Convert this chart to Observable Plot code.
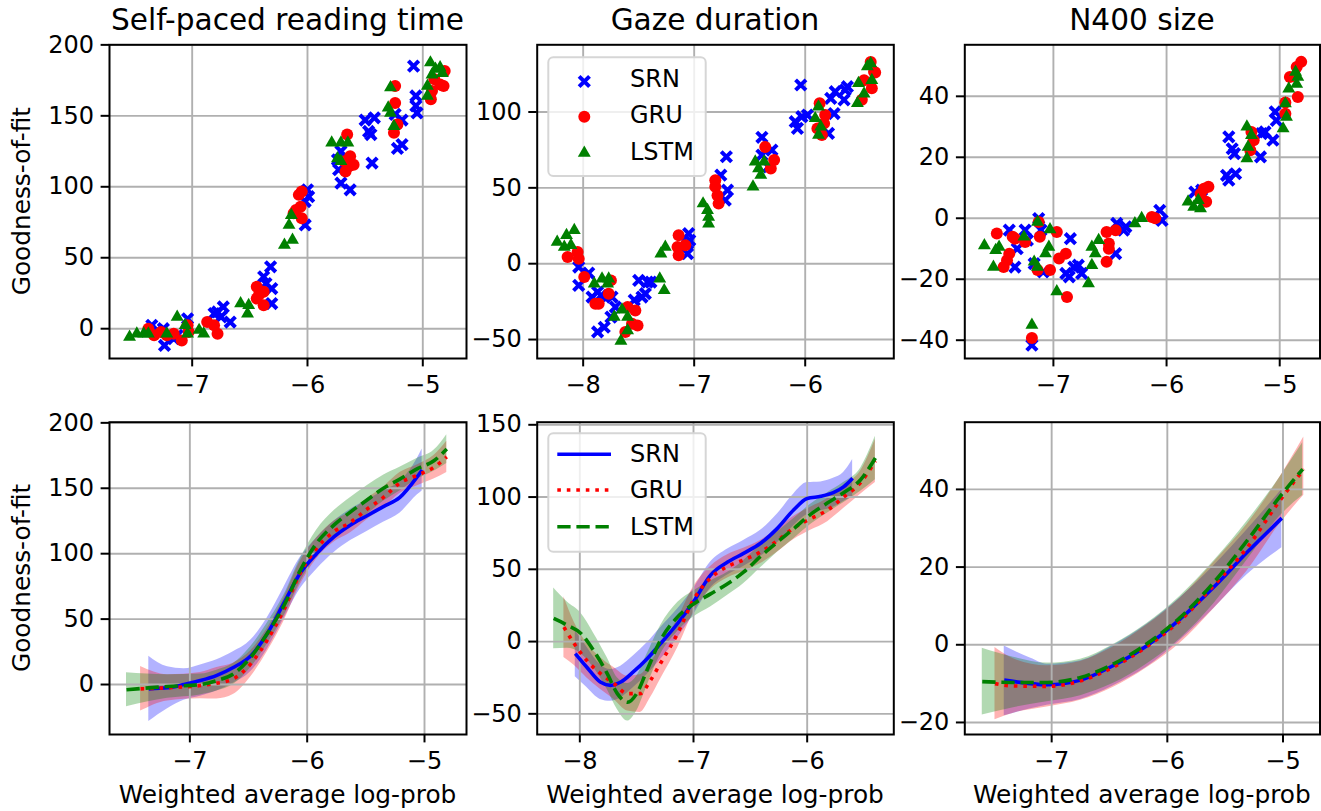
<!DOCTYPE html>
<html><head><meta charset="utf-8">
<script src="https://cdn.jsdelivr.net/npm/d3@7"></script>
<script src="https://cdn.jsdelivr.net/npm/@observablehq/plot@0.6"></script>
<style>
body{margin:0;background:#fff;}
#chart{position:relative;width:1321px;height:811px;font-family:"DejaVu Sans";}
#chart svg{position:absolute;left:0;top:0;}
</style></head><body><div id="chart"></div>
<script>
// ---------- labels ----------
const models = ["SRN", "GRU", "LSTM"];
const panelTitles = ["Self-paced reading time", "Gaze duration", "N400 size"];
const yLabel = "Goodness-of-fit";
const xLabel = "Weighted average log-prob";

// ---------- tick values ----------
const ticksX_spr = [-7, -6, -5];
const ticksX_gaze = [-8, -7, -6];
const ticksX_n400 = [-7, -6, -5];
const ticksY_sprTop = [0, 50, 100, 150, 200];
const ticksY_gazeTop = [-50, 0, 50, 100];
const ticksY_n400Top = [-40, -20, 0, 20, 40];
const ticksY_sprBot = [0, 50, 100, 150, 200];
const ticksY_gazeBot = [-50, 0, 50, 100, 150];
const ticksY_n400Bot = [-20, 0, 20, 40];

// ---------- scatter data [x, y] ----------
const sprSRN = [[-7.35,2.4],[-7.30,-1.2],[-7.25,0],[-7.24,-11.8],[-7.16,-7],[-7.04,7],[-7.13,-4.7],[-6.81,10.6],[-6.73,15.3],[-6.75,8.3],[-6.67,4.7],[-6.78,11.8],[-6.38,36.6],[-6.32,43.6],[-6.36,31.8],[-6.31,28.3],[-6.31,17.7],[-6.0,97.9],[-6.02,89.6],[-6.02,73.1],[-5.99,93],[-5.71,125],[-5.73,112],[-5.71,102.6],[-5.63,97.9],[-5.74,119],[-5.50,147],[-5.47,139],[-5.42,148.6],[-5.44,116.7],[-5.45,136.8],[-5.22,127],[-5.18,129.7],[-5.24,151],[-5.18,147],[-5.08,185],[-5.06,164],[-5.05,152],[-5.06,157]];
const sprGRU = [[-7.38,0],[-7.33,-4.7],[-7.27,-2.4],[-7.22,-4.7],[-7.16,-3.5],[-7.09,-8.3],[-7.04,2.4],[-7.03,-2.4],[-6.87,4.7],[-6.81,2.4],[-6.78,-3.5],[-6.44,29.5],[-6.44,21.2],[-6.38,26],[-6.38,16.5],[-6.42,24],[-6.075,94.3],[-6.05,96.7],[-6.10,83.7],[-6.06,86],[-6.05,77.8],[-6.12,81.4],[-5.656,136.8],[-5.63,121.5],[-5.67,110.8],[-5.60,115.6],[-5.64,114.4],[-5.68,118],[-5.24,171],[-5.24,159],[-5.22,143.9],[-5.25,138],[-4.93,161.6],[-4.92,167.5],[-4.85,172],[-4.82,171],[-4.81,181.6],[-4.90,175.7]];
const sprLSTM = [[-7.543,-5.9],[-7.48,-3.5],[-7.42,-3.5],[-7.38,-3.5],[-7.13,8.3],[-7.22,-3.5],[-7.06,2.4],[-7.04,-3.5],[-6.94,-1],[-6.90,-3.5],[-6.58,17.7],[-6.51,16.5],[-6.52,10.6],[-6.16,73],[-6.14,80],[-6.20,59],[-6.13,62.5],[-5.79,131],[-5.71,131],[-5.65,131],[-5.74,120],[-5.71,118],[-5.28,170],[-5.30,155.7],[-5.25,142.7],[-5.28,152],[-4.934,187.5],[-4.96,171],[-4.92,179],[-4.96,164],[-4.89,183],[-4.85,184],[-4.83,180]];

const gazeSRN = [[-8.04,-2.2],[-8.04,-14.3],[-7.95,-6.2],[-7.92,-22],[-7.87,-18.7],[-7.84,-21],[-7.87,-45],[-7.81,-41.9],[-7.74,-22],[-7.71,-28.6],[-7.75,-35.2],[-7.54,-24],[-7.50,-11],[-7.42,-12.1],[-7.47,-22],[-7.44,-19.8],[-7.39,-12.1],[-7.05,19.8],[-7.06,13.2],[-7.06,6.6],[-7.04,15.4],[-6.76,58.4],[-6.71,70.5],[-6.70,48.5],[-6.72,41.9],[-6.39,83.3],[-6.39,71.6],[-6.33,63.9],[-6.30,74.9],[-6.09,93.6],[-6.07,89.2],[-6.03,96.9],[-6.04,117.8],[-5.98,98],[-5.79,85.9],[-5.77,109],[-5.74,99],[-5.73,113.4],[-5.65,108],[-5.64,114.5],[-5.62,116.7]];
const gazeGRU = [[-8.14,4.4],[-8.05,7.7],[-8.04,3.3],[-7.99,-8.8],[-7.89,-26.4],[-7.86,-26.4],[-7.77,-19.8],[-7.75,-11],[-7.60,-28.6],[-7.53,-30.8],[-7.56,-39.6],[-7.62,-45],[-7.51,-40.7],[-7.14,18.7],[-7.15,11],[-7.14,5.5],[-7.08,12.1],[-6.81,55],[-6.79,45],[-6.78,39.6],[-6.81,50.7],[-6.36,77],[-6.31,62.8],[-6.28,68.3],[-5.87,105.7],[-5.82,98],[-5.83,92.5],[-5.85,84.8],[-5.89,89.2],[-5.49,108],[-5.47,121],[-5.40,115.6],[-5.41,133],[-5.38,126.6],[-5.37,126]];
const gazeLSTM = [[-8.234,14.3],[-8.15,18.7],[-8.17,11],[-8.08,22],[-8.11,12.1],[-7.90,-13.2],[-7.83,-9.9],[-7.78,-13.2],[-7.77,-9.9],[-7.72,-35.2],[-7.65,-30.4],[-7.60,-35.2],[-7.66,-51],[-7.60,-44],[-7.31,-9.9],[-7.27,-17.6],[-7.30,6.6],[-7.26,11],[-6.92,39.6],[-6.87,30.8],[-6.87,26.4],[-6.88,35.2],[-6.47,50.7],[-6.45,67.2],[-6.40,58.4],[-6.37,67.2],[-6.42,62.8],[-5.91,95.8],[-5.88,103.5],[-5.86,90.3],[-5.88,84.8],[-5.53,105.7],[-5.52,119],[-5.47,112],[-5.44,130],[-5.41,132],[-5.40,121]];

const n400SRN = [[-7.39,-3.9],[-7.34,-16],[-7.32,-10],[-7.25,-3.9],[-7.23,-7.2],[-7.13,-0.1],[-7.11,-3.9],[-7.17,-14.9],[-7.19,-41.6],[-7.09,-17.6],[-6.89,-18.1],[-6.85,-6.7],[-6.82,-16],[-6.78,-15.4],[-6.75,-18.1],[-6.86,-19.2],[-6.45,-11.6],[-6.44,-1.7],[-6.38,-3.9],[-6.36,-2.8],[-6.06,2.6],[-6.04,-0.7],[-5.75,8.6],[-5.69,9.2],[-5.45,26.7],[-5.42,22.8],[-5.40,21.2],[-5.47,14.1],[-5.45,12.5],[-5.39,14.6],[-5.17,20.1],[-5.16,27.8],[-5.13,28.3],[-5.06,25.6],[-5.04,34.9],[-5.03,32.1]];
const n400GRU = [[-7.50,-5],[-7.44,-16],[-7.41,-13.8],[-7.39,-11.6],[-7.36,-6.1],[-7.34,-6.7],[-7.25,-7.8],[-7.13,-1.2],[-7.12,-6.1],[-7.14,-17],[-7.03,-17],[-6.97,-4.5],[-6.95,-13.2],[-6.89,-11.6],[-6.88,-25.8],[-7.19,-39.3],[-6.53,-4.5],[-6.51,-8.3],[-6.51,-10],[-6.45,-3.9],[-6.53,-14.3],[-6.13,0.4],[-6.10,0],[-5.70,8],[-5.67,9.7],[-5.63,10.3],[-5.65,5.4],[-5.25,28.3],[-5.23,25.6],[-5.26,22.3],[-4.95,38],[-4.95,34.3],[-4.91,46.3],[-4.85,49.6],[-4.81,51.3],[-4.84,39.8]];
const n400LSTM = [[-7.61,-8.9],[-7.53,-16],[-7.51,-10.5],[-7.48,-9.4],[-7.26,-6.1],[-7.14,-1.2],[-7.17,-14.3],[-7.14,-16],[-7.07,-11.6],[-7.04,-9.4],[-7.03,-3.7],[-6.97,-24],[-7.19,-35],[-6.69,-21.4],[-6.66,-15.4],[-6.66,-9.4],[-6.63,-11.6],[-6.60,-7.2],[-6.28,-1.7],[-6.22,0],[-5.81,5.4],[-5.76,3.7],[-5.72,5.9],[-5.70,3.2],[-5.29,30],[-5.28,23.4],[-5.29,19.6],[-5.25,27.2],[-4.97,29.4],[-4.94,33.2],[-4.95,37.6],[-4.92,42.5],[-4.86,48],[-4.85,44],[-4.84,46.3]];

// ---------- fitted curves: x, fit, lower, upper ----------
const sprFitSRN_x  = [-7.35,-7.19,-7.05,-6.91,-6.77,-6.63,-6.48,-6.34,-6.20,-6.06,-5.92,-5.77,-5.63,-5.49,-5.35,-5.21,-5.06,-5.02];
const sprFitSRN_y  = [-3.3,-2.5,0,3,7,13,22,39,62,85,100,113,122,129,136,143,159,164];
const sprFitSRN_lo = [-28.3,-18.5,-12,-9,-5,1,10,27,50,73,88,101,110,117,124,131,145,148];
const sprFitSRN_hi = [21.7,13.5,12,15,19,25,34,51,74,97,112,125,134,141,148,155,173,180];
const sprFitGRU_x  = [-7.42,-7.19,-6.91,-6.77,-6.63,-6.48,-6.34,-6.20,-6.06,-5.92,-5.77,-5.63,-5.49,-5.35,-5.21,-5.06,-4.92,-4.81];
const sprFitGRU_y  = [-3.3,-2.5,-0.8,1,4.3,16,34,57,85,104,117,124,134,143,154,160,166,174];
const sprFitGRU_lo = [-20.3,-12.5,-10.8,-11,-7.7,6,25,48,76,96,109,116,126,135,146,152,157,162];
const sprFitGRU_hi = [13.7,7.5,9.2,13,16.3,26,43,66,94,112,125,132,142,151,162,168,175,186];
const sprFitLSTM_x  = [-7.54,-7.19,-6.91,-6.77,-6.63,-6.48,-6.34,-6.20,-6.06,-5.92,-5.77,-5.63,-5.49,-5.35,-5.21,-5.06,-4.92,-4.81];
const sprFitLSTM_y  = [-4,-1.5,0,3,8,21,39,60,87,108,122,132,141,150,157,165,171,180];
const sprFitLSTM_lo = [-17,-10.5,-8,-5,0,13,31,52,78,98,111,121,130,140,148,157,163,169];
const sprFitLSTM_hi = [9,7.5,8,11,16,29,47,68,96,118,133,143,152,160,166,173,179,191];

const gazeFitSRN_x  = [-8.04,-7.94,-7.82,-7.73,-7.64,-7.53,-7.41,-7.29,-7.14,-7.00,-6.85,-6.70,-6.56,-6.41,-6.26,-6.12,-6.00,-5.88,-5.77,-5.68,-5.60];
const gazeFitSRN_y  = [-8.3,-17.6,-28,-30.3,-28,-21,-12,-1.4,12.5,27.5,46,55,61,68,78.5,91,99,100.5,103,107,113];
const gazeFitSRN_lo = [-24.3,-31.6,-40,-41.3,-39,-32,-23,-12.4,2.5,18.5,37,46,52,59,68.5,80,88,90.5,93,97,100];
const gazeFitSRN_hi = [7.7,-3.6,-16,-19.3,-17,-10,-1,9.6,22.5,36.5,55,64,70,77,88.5,102,110,110.5,113,117,126];
const gazeFitGRU_x  = [-8.14,-8.05,-7.94,-7.82,-7.70,-7.58,-7.47,-7.38,-7.29,-7.14,-7.00,-6.85,-6.70,-6.56,-6.41,-6.26,-6.12,-5.97,-5.82,-5.68,-5.53,-5.40];
const gazeFitGRU_y  = [10,-1.4,-13,-22,-29,-36,-36,-27,-15,5.6,29,44,52,56.5,62,70,78.5,85,91,100,110,125];
const gazeFitGRU_lo = [-11,-16.4,-25,-33,-40,-48,-49,-39,-26,-4.4,20,36,44,48.5,54,62,70.5,77,83,92,102,110];
const gazeFitGRU_hi = [31,13.6,-1,-11,-18,-24,-23,-15,-4,15.6,38,52,60,64.5,70,78,86.5,93,99,108,118,140];
const gazeFitLSTM_x  = [-8.23,-8.11,-7.99,-7.88,-7.76,-7.67,-7.58,-7.50,-7.41,-7.29,-7.14,-7.00,-6.85,-6.70,-6.56,-6.41,-6.26,-6.12,-5.97,-5.82,-5.68,-5.53,-5.40];
const gazeFitLSTM_y  = [16,11.3,5.6,-6,-22,-36,-42,-36,-20,1,17,26,33,40,48,59,69,78,88,96,103,112,127];
const gazeFitLSTM_lo = [-5,-4.7,-8.4,-18,-33,-47,-55,-48,-31,-9,7,17,24,32,40,51,62,71,81,89,96,104,112];
const gazeFitLSTM_hi = [37,27.3,19.6,6,-11,-25,-29,-24,-9,11,27,35,42,48,56,67,76,85,95,103,110,120,142];

const n400FitSRN_x  = [-7.41,-7.18,-7.04,-6.75,-6.47,-6.18,-5.89,-5.60,-5.31,-5.01];
const n400FitSRN_y  = [-9.1,-10,-10.3,-9.1,-5.4,-0.3,6.6,14.8,23.8,32.6];
const n400FitSRN_lo = [-18.3,-16.5,-15.6,-14.1,-10.6,-5.8,1.1,9.3,18,25];
const n400FitSRN_hi = [-0.3,-3.5,-5,-4.1,-0.2,5.2,12.1,20.3,29.6,40];
const n400FitGRU_x  = [-7.49,-7.33,-7.04,-6.75,-6.47,-6.18,-5.89,-5.60,-5.31,-5.03,-4.82];
const n400FitGRU_y  = [-10,-10.6,-10.7,-9.3,-5.8,-0.5,6.2,15.2,25,37,45.2];
const n400FitGRU_lo = [-19.3,-17.6,-16,-14.3,-11,-6,0.4,9.2,19,31,38.5];
const n400FitGRU_hi = [-0.7,-3.6,-5.4,-4.3,-0.6,5,12,21.2,31,43,53.5];
const n400FitLSTM_x  = [-7.60,-7.33,-7.04,-6.75,-6.47,-6.18,-5.89,-5.60,-5.31,-5.03,-4.83];
const n400FitLSTM_y  = [-9.5,-9.7,-9.7,-8.4,-5,0.2,7,16,26.8,38,45.2];
const n400FitLSTM_lo = [-18.1,-16.2,-14.7,-13.1,-10,-5,1.5,10.5,21.8,33,38.4];
const n400FitLSTM_hi = [-0.9,-3.2,-4.7,-3.7,0,5.4,12.5,21.5,31.8,43,52];

// ---------- helpers ----------
const COL = {SRN: "#0000ff", GRU: "#ff0000", LSTM: "#008000"};
const DASH = {SRN: null, GRU: "3.6,5.9", LSTM: "13.3,5.8"};
const pts = arr => arr.map(([x, y]) => ({x, y}));
const rows = (xs, ys, lo, hi) => xs.map((x, i) => ({x, y: ys[i], lo: lo[i], hi: hi[i]}));
const W = 1321, H = 811;
const fmt = d3.format("d");
const R_X = 4.8, R_O = 6, R_T = 4.8;

function panel(o) {
  const base = [];
  const top = [];
  if (o.scatter) {
    const [s, g, l] = o.scatter;
    top.push(Plot.dot(pts(s), {x: "x", y: "y", symbol: "times", stroke: COL.SRN, strokeWidth: 4, r: R_X, fill: "none"}));
    top.push(Plot.dot(pts(g), {x: "x", y: "y", symbol: "circle", fill: COL.GRU, r: R_O}));
    top.push(Plot.dot(pts(l), {x: "x", y: "y", symbol: "triangle", fill: COL.LSTM, r: R_T}));
  }
  if (o.fits) {
    o.fits.forEach((f, i) => {
      const m = models[i];
      base.push(Plot.areaY(f, {x: "x", y1: "lo", y2: "hi", fill: COL[m], fillOpacity: 0.3, curve: "monotone-x"}));
    });
    o.fits.forEach((f, i) => {
      const m = models[i];
      const opts = {x: "x", y: "y", stroke: COL[m], strokeWidth: 3.6, curve: "monotone-x", strokeLinecap: "butt"};
      if (DASH[m]) opts.strokeDasharray = DASH[m];
      top.push(Plot.line(f, opts));
    });
  }
  const svg = Plot.plot({
    width: W, height: H,
    marginLeft: o.l, marginRight: W - o.r, marginTop: o.t, marginBottom: H - o.b,
    x: {domain: o.xd}, y: {domain: o.yd},
    style: {background: "transparent", overflow: "visible", fontFamily: "DejaVu Sans", color: "black"},
    marks: [
      ...base,
      Plot.gridX({ticks: o.xt, stroke: "#b0b0b0", strokeOpacity: 1, strokeWidth: 1.9}),
      Plot.gridY({ticks: o.yt, stroke: "#b0b0b0", strokeOpacity: 1, strokeWidth: 1.9}),
      ...top,
      Plot.frame({stroke: "black", strokeWidth: 2}),
      Plot.axisX({ticks: o.xt, tickSize: 8.4, tickPadding: 9, fontSize: 24, tickFormat: fmt, label: null, strokeWidth: 2}),
      Plot.axisY({ticks: o.yt, tickSize: 8.4, tickPadding: 7, fontSize: 24, tickFormat: fmt, label: null, strokeWidth: 2})
    ]
  });
  document.getElementById("chart").appendChild(svg);
}

const L = [109, 536.7, 964.3], R = [466, 893.3, 1319.5];
const TT = [44.3, 358], BB = [421.7, 734];

panel({l: L[0], r: R[0], t: TT[0], b: TT[1], xd: [-7.717, -4.621], yd: [-21, 200.05], xt: ticksX_spr, yt: ticksY_sprTop, scatter: [sprSRN, sprGRU, sprLSTM]});
panel({l: L[1], r: R[1], t: TT[0], b: TT[1], xd: [-8.414, -5.202], yd: [-62.5, 144.3], xt: ticksX_gaze, yt: ticksY_gazeTop, scatter: [gazeSRN, gazeGRU, gazeLSTM]});
panel({l: L[2], r: R[2], t: TT[0], b: TT[1], xd: [-7.783, -4.644], yd: [-46, 56.9], xt: ticksX_n400, yt: ticksY_n400Top, scatter: [n400SRN, n400GRU, n400LSTM]});
panel({l: L[0], r: R[0], t: BB[0], b: BB[1], xd: [-7.685, -4.642], yd: [-38.2, 200.5], xt: ticksX_spr, yt: ticksY_sprBot,
  fits: [rows(sprFitSRN_x, sprFitSRN_y, sprFitSRN_lo, sprFitSRN_hi), rows(sprFitGRU_x, sprFitGRU_y, sprFitGRU_lo, sprFitGRU_hi), rows(sprFitLSTM_x, sprFitLSTM_y, sprFitLSTM_lo, sprFitLSTM_hi)]});
panel({l: L[1], r: R[1], t: BB[0], b: BB[1], xd: [-8.375, -5.238], yd: [-64.3, 151.8], xt: ticksX_gaze, yt: ticksY_gazeBot,
  fits: [rows(gazeFitSRN_x, gazeFitSRN_y, gazeFitSRN_lo, gazeFitSRN_hi), rows(gazeFitGRU_x, gazeFitGRU_y, gazeFitGRU_lo, gazeFitGRU_hi), rows(gazeFitLSTM_x, gazeFitLSTM_y, gazeFitLSTM_lo, gazeFitLSTM_hi)]});
panel({l: L[2], r: R[2], t: BB[0], b: BB[1], xd: [-7.751, -4.68], yd: [-23.1, 57.3], xt: ticksX_n400, yt: ticksY_n400Bot,
  fits: [rows(n400FitSRN_x, n400FitSRN_y, n400FitSRN_lo, n400FitSRN_hi), rows(n400FitGRU_x, n400FitGRU_y, n400FitGRU_lo, n400FitGRU_hi), rows(n400FitLSTM_x, n400FitLSTM_y, n400FitLSTM_lo, n400FitLSTM_hi)]});

// ---------- titles, labels, legends ----------
const ov = d3.create("svg").attr("width", W).attr("height", H)
  .attr("font-family", "DejaVu Sans").style("overflow", "visible");
panelTitles.forEach((t, i) => {
  ov.append("text").attr("x", (L[i] + R[i]) / 2).attr("y", 30).attr("text-anchor", "middle")
    .attr("font-size", 29.6).text(t);
  ov.append("text").attr("x", (L[i] + R[i]) / 2).attr("y", 803).attr("text-anchor", "middle")
    .attr("font-size", 24.8).text(xLabel);
});
[(TT[0] + TT[1]) / 2, (BB[0] + BB[1]) / 2].forEach(cy => {
  ov.append("text").attr("transform", `translate(30,${cy}) rotate(-90)`).attr("text-anchor", "middle")
    .attr("font-size", 24.8).text(yLabel);
});
// scatter legend
const lg1 = ov.append("g");
lg1.append("rect").attr("x", 548.3).attr("y", 57.3).attr("width", 157.4).attr("height", 118.7).attr("rx", 5)
  .attr("fill", "white").attr("fill-opacity", 0.8).attr("stroke", "#d6d6d6").attr("stroke-width", 2);
const ly1 = [81.5, 116.7, 153];
const tb1 = [87.3, 123.3, 160.3];
lg1.append("path").attr("transform", `translate(584.3,${ly1[0]})`).attr("d", d3.symbol(d3.symbolTimes, Math.PI * R_X * R_X)())
  .attr("stroke", COL.SRN).attr("stroke-width", 4).attr("fill", "none");
lg1.append("circle").attr("cx", 584.3).attr("cy", ly1[1]).attr("r", R_O).attr("fill", COL.GRU);
lg1.append("path").attr("transform", `translate(584.3,${ly1[2]})`).attr("d", d3.symbol(d3.symbolTriangle, Math.PI * R_T * R_T)())
  .attr("fill", COL.LSTM);
models.forEach((m, i) => lg1.append("text").attr("x", 630).attr("y", tb1[i]).attr("font-size", 24).text(m));
// line legend
const lg2 = ov.append("g");
lg2.append("rect").attr("x", 548.3).attr("y", 433.3).attr("width", 157.4).attr("height", 118.4).attr("rx", 5)
  .attr("fill", "white").attr("fill-opacity", 0.8).attr("stroke", "#d6d6d6").attr("stroke-width", 2);
const ly2 = [454.3, 490, 526.7];
const tb2 = [462.3, 498.3, 535];
models.forEach((m, i) => {
  const ln = lg2.append("line").attr("x1", 557.3).attr("x2", 611).attr("y1", ly2[i]).attr("y2", ly2[i])
    .attr("stroke", COL[m]).attr("stroke-width", 3.6);
  if (DASH[m]) ln.attr("stroke-dasharray", DASH[m]);
  lg2.append("text").attr("x", 630).attr("y", tb2[i]).attr("font-size", 24).text(m);
});
document.getElementById("chart").appendChild(ov.node());
</script>
</body></html>
